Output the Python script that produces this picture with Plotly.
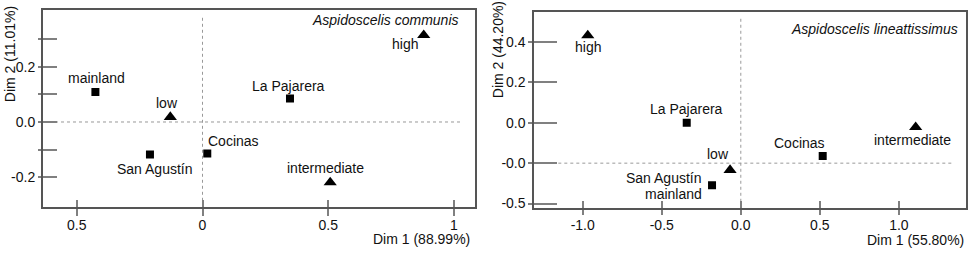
import plotly.graph_objects as go

W, H = 974, 261

# ---------------- data ----------------
# Panel A: Aspidoscelis communis
a_labels = ["mainland", "San Agustín", "Cocinas", "La Pajarera", "low", "intermediate", "high"]
a_kind = ["site", "site", "site", "site", "level", "level", "level"]
a_dim1 = [-0.426, -0.209, 0.019, 0.348, -0.128, 0.508, 0.880]
a_dim2 = [0.109, -0.118, -0.114, 0.085, 0.018, -0.219, 0.315]

# Panel B: Aspidoscelis lineattissimus
b_labels = ["La Pajarera", "San Agustín\nmainland", "Cocinas", "low", "intermediate", "high"]
b_kind = ["site", "site", "site", "level", "level", "level"]
b_dim1 = [-0.342, -0.182, 0.518, -0.068, 1.106, -0.968]
b_dim2 = [0.000, -0.310, -0.164, -0.234, -0.022, 0.433]

a_xticks = [-0.5, 0, 0.5, 1]
a_xticktext = ["0.5", "0", "0.5", "1"]
a_yticks = [0.3, 0.2, 0.1, 0.0, -0.1, -0.2]
a_yticktext = ["", "0.2", "", "0.0", "", "-0.2"]

b_xticks = [-1.0, -0.5, 0.0, 0.5, 1.0]
b_xticktext = ["-1.0", "-0.5", "0.0", "0.5", "1.0"]
b_yticks = [0.4, 0.2, 0.0, -0.2, -0.4]
b_yticktext = ["0.4", "0.2", "0.0", "-0.0", "-0.5"]

a_title, b_title = "Aspidoscelis communis", "Aspidoscelis lineattissimus"
a_xtitle, a_ytitle = "Dim 1 (88.99%)", "Dim 2 (11.01%)"
b_xtitle, b_ytitle = "Dim 1 (55.80%)", "Dim 2 (44.20%)"

# ---------------- styling ----------------
FONT = "Liberation Sans, Arial, sans-serif"
TXT = "#111111"
FS = 14
BORDER = "#555555"
TICKC = "#808080"
LINE_GAP = 16

# label offsets (px) relative to marker: (dx, dy_down, xanchor)
a_off = [(1, 14.3, "center"), (5, -14, "center"), (26, 12.4, "center"), (-1.3, 12.7, "center"),
         (-3.6, 14, "center"), (-5, 14.6, "center"), (-19, -8.6, "center")]
b_off = [(-0.7, 14, "center"), (-9.3, -0.5, "right"), (-22.7, 12.6, "center"),
         (-12, 16, "center"), (-3.4, -12.4, "center"), (0, -11.7, "center")]

# geometry (px)
A_L, A_R, A_T, A_B = 43, 475, 10, 210
B_L, B_R, B_T, B_B = 534.3, 966, 11.7, 211

fig = go.Figure()

def add_panel(xs, ys, kinds, xa, ya):
    for kind, sym, size in [("site", "square", 8), ("level", "triangle-up", 11.5)]:
        px_ = [x for x, k in zip(xs, kinds) if k == kind]
        py_ = [y for y, k in zip(ys, kinds) if k == kind]
        fig.add_trace(go.Scatter(x=px_, y=py_, mode="markers", xaxis=xa, yaxis=ya,
                                 marker=dict(symbol=sym, size=size, color="black",
                                             line=dict(width=0)),
                                 showlegend=False, hoverinfo="skip"))

add_panel(a_dim1, a_dim2, a_kind, "x", "y")
add_panel(b_dim1, b_dim2, b_kind, "x2", "y2")
# dummy traces for overlay axes (inner tick stubs)
fig.add_trace(go.Scatter(x=[None], y=[None], xaxis="x3", yaxis="y3", showlegend=False))
fig.add_trace(go.Scatter(x=[None], y=[None], xaxis="x4", yaxis="y4", showlegend=False))

annotations = []
def add_labels(labels, xs, ys, offs, xref, yref):
    for lab, x, y, (dx, dy, xa) in zip(labels, xs, ys, offs):
        lines = lab.split("\n")
        n = len(lines)
        for i, line in enumerate(lines):
            shift = (i - (n - 1) / 2) * LINE_GAP
            annotations.append(dict(x=x, y=y, xref=xref, yref=yref, text=line, showarrow=False,
                                    xanchor=xa, yanchor="middle", xshift=dx,
                                    yshift=dy - shift, borderpad=0,
                                    font=dict(family=FONT, size=FS, color=TXT)))

add_labels(a_labels, a_dim1, a_dim2, a_off, "x", "y")
add_labels(b_labels, b_dim1, b_dim2, b_off, "x2", "y2")

def paper_txt(text, px, py, xanchor="center", angle=0, italic=False, size=FS):
    annotations.append(dict(x=px / W, y=1 - py / H, xref="paper", yref="paper", text=text,
                            showarrow=False, xanchor=xanchor, yanchor="middle", textangle=angle,
                            borderpad=0,
                            font=dict(family=FONT, size=size, color=TXT,
                                      style="italic" if italic else "normal")))

paper_txt(a_title, 460, 20, "right", italic=True)
paper_txt(b_title, 959.3, 29.3, "right", italic=True)
paper_txt(a_xtitle, 470.7, 243, "right")
paper_txt(b_xtitle, 965, 244, "right")
paper_txt(a_ytitle, 10, 55, "center", angle=-90)
paper_txt(b_ytitle, 498, 51, "center", angle=-90)

# ranges from pixel geometry
a_xr = [(A_L - 202.5) / 251.4, (A_R - 202.5) / 251.4]
a_yr = [(123.9 - A_B) / 280, (123.9 - A_T) / 280]
b_xr = [(B_L - 740.8) / 158.1, (B_R - 740.8) / 158.1]
b_yr = [(124.7 - B_B) / 205, (124.7 - B_T) / 205]

dom_ax = [A_L / W, A_R / W]
dom_ay = [1 - A_B / H, 1 - A_T / H]
dom_bx = [B_L / W, B_R / W]
dom_by = [1 - B_B / H, 1 - B_T / H]

tickfont = dict(family=FONT, size=FS, color=TXT)
def main_axis(rng, dom, anchor, tv, tt, outlen, standoff=0):
    return dict(range=rng, domain=dom, anchor=anchor, tickmode="array", tickvals=tv, ticktext=tt,
                ticks="outside", ticklen=outlen, tickwidth=1.5, tickcolor=TICKC,
                showline=True, mirror=True, linecolor=BORDER, linewidth=2,
                showgrid=False, zeroline=False, tickfont=tickfont, fixedrange=True,
                ticklabelstandoff=standoff)

def stub_axis(rng, over, anchor, tv, inlen):
    return dict(range=rng, overlaying=over, anchor=anchor, tickmode="array", tickvals=tv,
                ticks="inside", ticklen=inlen, tickwidth=1.5, tickcolor=TICKC,
                showticklabels=False, showline=False, showgrid=False, zeroline=False,
                fixedrange=True)

fig.update_layout(
    width=W, height=H, margin=dict(l=0, r=0, t=0, b=0),
    paper_bgcolor="white", plot_bgcolor="rgba(0,0,0,0)",
    xaxis=main_axis(a_xr, dom_ax, "y", a_xticks, a_xticktext, 7, -3),
    yaxis=main_axis(a_yr, dom_ay, "x", a_yticks, a_yticktext, 3),
    xaxis2=main_axis(b_xr, dom_bx, "y2", b_xticks, b_xticktext, 5, -2),
    yaxis2=main_axis(b_yr, dom_by, "x2", b_yticks, b_yticktext, 4),
    xaxis3=stub_axis(a_xr, "x", "y3", a_xticks, 7),
    yaxis3=stub_axis(a_yr, "y", "x3", a_yticks, 14),
    xaxis4=stub_axis(b_xr, "x2", "y4", b_xticks, 7),
    yaxis4=stub_axis(b_yr, "y2", "x4", b_yticks, 23),
    annotations=annotations,
    shapes=[
        dict(type="line", xref="x", yref="y domain", x0=0, x1=0, y0=0, y1=(A_B - 15) / (A_B - A_T),
             line=dict(color="#999999", width=1, dash="dot"), layer="below"),
        dict(type="line", xref="x domain", yref="y", x0=0, x1=(463 - A_L) / (A_R - A_L), y0=0, y1=0,
             line=dict(color="#999999", width=1, dash="dot"), layer="below"),
        dict(type="line", xref="x2", yref="y2 domain", x0=0, x1=0, y0=0, y1=(B_B - 19) / (B_B - B_T),
             line=dict(color="#999999", width=1, dash="dot"), layer="below"),
        dict(type="line", xref="x2 domain", yref="y2", x0=0, x1=(954 - B_L) / (B_R - B_L), y0=-0.2, y1=-0.2,
             line=dict(color="#999999", width=1, dash="dot"), layer="below"),
    ],
)

fig.write_html("out.html", config={"displayModeBar": False},
               post_script="document.body.style.margin='0';")
